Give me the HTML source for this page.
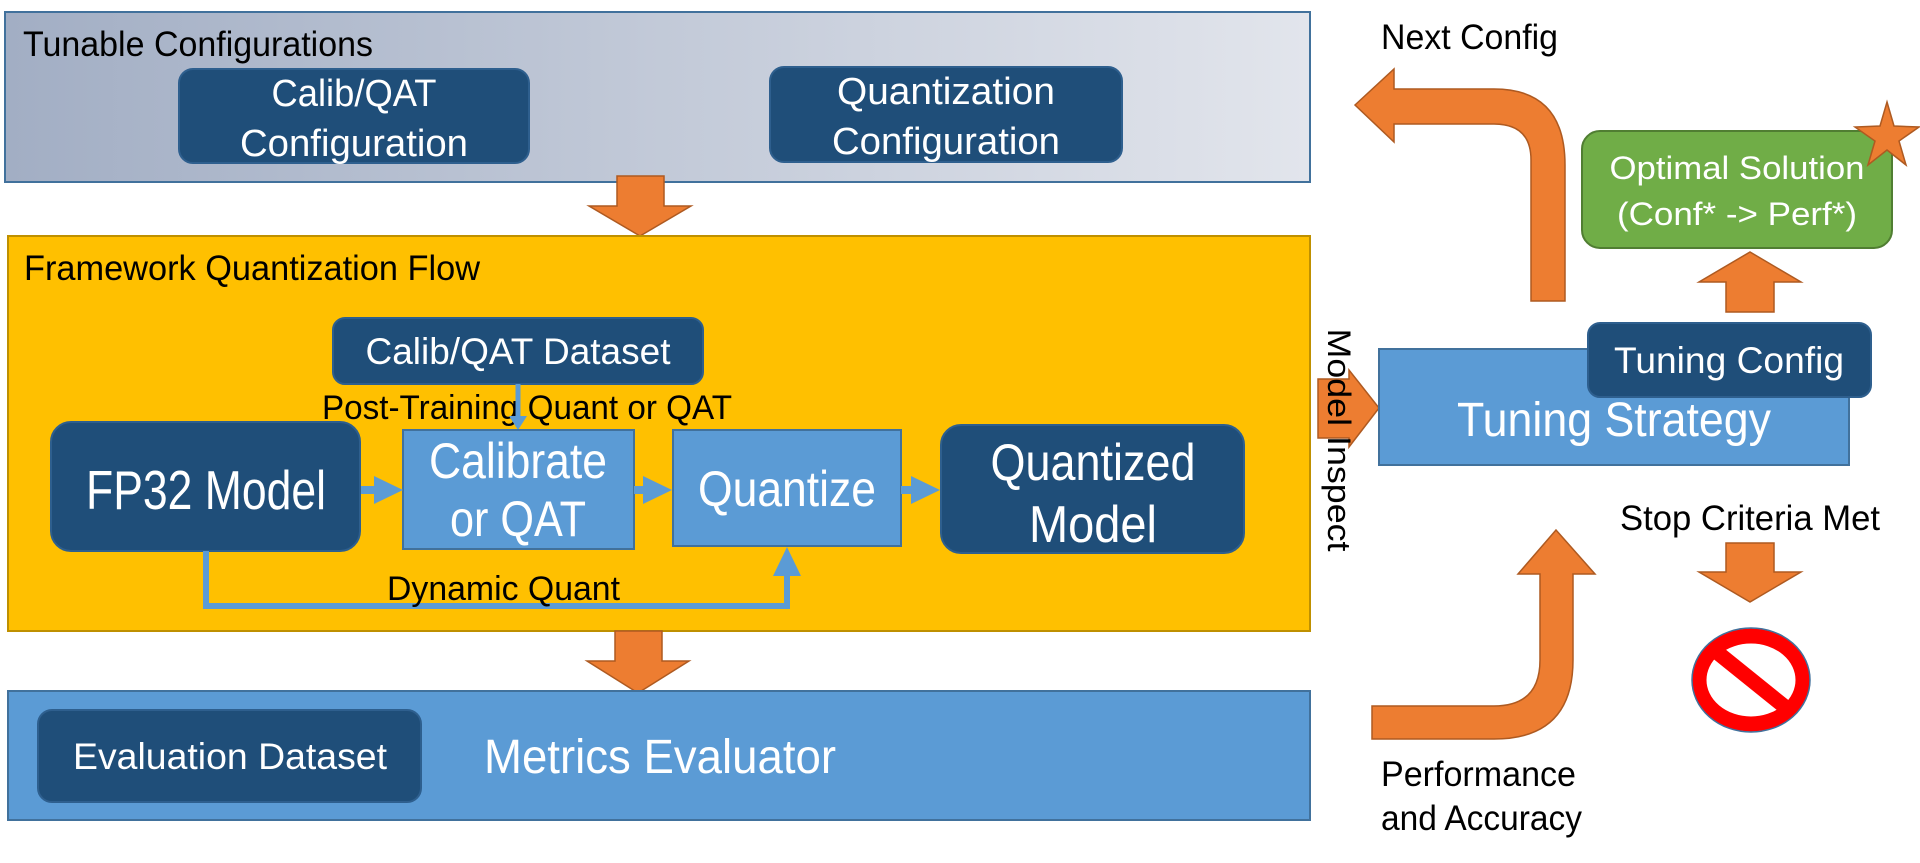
<!DOCTYPE html>
<html><head><meta charset="utf-8"><style>
html,body{margin:0;padding:0;background:#fff;}
svg{display:block;}
text{font-family:"Liberation Sans",sans-serif;}
</style></head><body>
<svg width="1920" height="863" viewBox="0 0 1920 863" xmlns="http://www.w3.org/2000/svg">
<defs>
<linearGradient id="g1" x1="0" y1="0" x2="1" y2="0">
<stop offset="0" stop-color="#A2AEC4"/><stop offset="1" stop-color="#E2E5EC"/>
</linearGradient>
</defs>
<rect x="5" y="12" width="1305" height="170" fill="url(#g1)" stroke="#41719C" stroke-width="2"/>
<text x="23" y="56" font-size="35" fill="#000" textLength="350" lengthAdjust="spacingAndGlyphs">Tunable Configurations</text>
<rect x="179" y="69" width="350" height="94" rx="14" fill="#1F4E79" stroke="#2E5F8E" stroke-width="2"/>
<text x="354" y="106" font-size="38" fill="#fff" text-anchor="middle" textLength="165" lengthAdjust="spacingAndGlyphs">Calib/QAT</text>
<text x="354" y="156" font-size="38" fill="#fff" text-anchor="middle" textLength="228" lengthAdjust="spacingAndGlyphs">Configuration</text>
<rect x="770" y="67" width="352" height="95" rx="14" fill="#1F4E79" stroke="#2E5F8E" stroke-width="2"/>
<text x="946" y="104" font-size="38" fill="#fff" text-anchor="middle" textLength="218" lengthAdjust="spacingAndGlyphs">Quantization</text>
<text x="946" y="154" font-size="38" fill="#fff" text-anchor="middle" textLength="228" lengthAdjust="spacingAndGlyphs">Configuration</text>
<polygon points="617,176 664,176 664,206 691,206 640,236 589,206 617,206" fill="#ED7D31" stroke="#AE5A21" stroke-width="1.5"/>
<rect x="8" y="236" width="1302" height="395" fill="#FFC000" stroke="#BF9000" stroke-width="2"/>
<text x="24" y="280" font-size="35" fill="#000" textLength="456" lengthAdjust="spacingAndGlyphs">Framework Quantization Flow</text>
<rect x="333" y="318" width="370" height="66" rx="12" fill="#1F4E79" stroke="#2E5F8E" stroke-width="2"/>
<text x="518" y="364" font-size="37" fill="#fff" text-anchor="middle" textLength="305" lengthAdjust="spacingAndGlyphs">Calib/QAT Dataset</text>
<text x="322" y="419" font-size="34" fill="#000" textLength="410" lengthAdjust="spacingAndGlyphs">Post-Training Quant or QAT</text>
<line x1="518" y1="384" x2="518" y2="418" stroke="#5B9BD5" stroke-width="5"/>
<polygon points="509,416 527,416 518,430" fill="#5B9BD5"/>
<rect x="51" y="422" width="309" height="129" rx="20" fill="#1F4E79" stroke="#2E5F8E" stroke-width="2"/>
<text x="206" y="509" font-size="55" fill="#fff" text-anchor="middle" textLength="240" lengthAdjust="spacingAndGlyphs">FP32 Model</text>
<rect x="403" y="430" width="231" height="119" fill="#5B9BD5" stroke="#41719C" stroke-width="2"/>
<text x="518" y="478" font-size="50" fill="#fff" text-anchor="middle" textLength="178" lengthAdjust="spacingAndGlyphs">Calibrate</text>
<text x="518" y="536" font-size="50" fill="#fff" text-anchor="middle" textLength="136" lengthAdjust="spacingAndGlyphs">or QAT</text>
<rect x="673" y="430" width="228" height="116" fill="#5B9BD5" stroke="#41719C" stroke-width="2"/>
<text x="787" y="506" font-size="50" fill="#fff" text-anchor="middle" textLength="178" lengthAdjust="spacingAndGlyphs">Quantize</text>
<rect x="941" y="425" width="303" height="128" rx="20" fill="#1F4E79" stroke="#2E5F8E" stroke-width="2"/>
<text x="1093" y="480" font-size="52" fill="#fff" text-anchor="middle" textLength="205" lengthAdjust="spacingAndGlyphs">Quantized</text>
<text x="1093" y="542" font-size="52" fill="#fff" text-anchor="middle" textLength="128" lengthAdjust="spacingAndGlyphs">Model</text>
<polygon points="361,486 374,486 374,476 403,490 374,504 374,494 361,494" fill="#5B9BD5"/>
<polygon points="634,486 643,486 643,476 672,490 643,504 643,494 634,494" fill="#5B9BD5"/>
<polygon points="901,486 911,486 911,476 940,490 911,504 911,494 901,494" fill="#5B9BD5"/>
<polyline points="206,551 206,606 787,606" fill="none" stroke="#5B9BD5" stroke-width="6"/>
<line x1="787" y1="609" x2="787" y2="570" stroke="#5B9BD5" stroke-width="6"/>
<polygon points="773,576 801,576 787,547" fill="#5B9BD5"/>
<text x="387" y="600" font-size="34" fill="#000" textLength="233" lengthAdjust="spacingAndGlyphs">Dynamic Quant</text>
<polygon points="615,631 662,631 662,661 689,661 638,693 587,661 615,661" fill="#ED7D31" stroke="#AE5A21" stroke-width="1.5"/>
<rect x="8" y="691" width="1302" height="129" fill="#5B9BD5" stroke="#41719C" stroke-width="2"/>
<rect x="38" y="710" width="383" height="92" rx="14" fill="#1F4E79" stroke="#2E5F8E" stroke-width="2"/>
<text x="230" y="769" font-size="37" fill="#fff" text-anchor="middle" textLength="314" lengthAdjust="spacingAndGlyphs">Evaluation Dataset</text>
<text x="484" y="773" font-size="48" fill="#fff" textLength="352" lengthAdjust="spacingAndGlyphs">Metrics Evaluator</text>
<text x="1381" y="49" font-size="35" fill="#000" textLength="177" lengthAdjust="spacingAndGlyphs">Next Config</text>
<path d="M1355,105 L1394,69 L1394,89 L1494,89 Q1565,89 1565,165 L1565,301 L1531,301 L1531,160 Q1531,124 1494,124 L1394,124 L1394,142 Z" fill="#ED7D31" stroke="#AE5A21" stroke-width="1.5"/>
<polygon points="1318,379 1349,379 1349,370 1379,408 1349,447 1349,438 1318,438" fill="#ED7D31" stroke="#AE5A21" stroke-width="1.5"/>
<rect x="1379" y="349" width="470" height="116" fill="#5B9BD5" stroke="#41719C" stroke-width="2"/>
<text x="1614" y="436" font-size="48" fill="#fff" text-anchor="middle" textLength="314" lengthAdjust="spacingAndGlyphs">Tuning Strategy</text>
<rect x="1588" y="323" width="283" height="74" rx="12" fill="#1F4E79" stroke="#2E5F8E" stroke-width="2"/>
<text x="1729" y="373" font-size="37" fill="#fff" text-anchor="middle" textLength="230" lengthAdjust="spacingAndGlyphs">Tuning Config</text>
<text transform="translate(1328,440) rotate(90)" font-size="32" fill="#000" text-anchor="middle" textLength="223" lengthAdjust="spacingAndGlyphs">Model Inspect</text>
<rect x="1582" y="131" width="310" height="117" rx="18" fill="#70AD47" stroke="#507E32" stroke-width="2"/>
<text x="1737" y="179" font-size="32" fill="#fff" text-anchor="middle" textLength="255" lengthAdjust="spacingAndGlyphs">Optimal Solution</text>
<text x="1737" y="225" font-size="32" fill="#fff" text-anchor="middle" textLength="240" lengthAdjust="spacingAndGlyphs">(Conf* -&gt; Perf*)</text>
<polygon points="1887,102 1894,126 1919,127 1899,141 1906,165 1887,150 1868,165 1875,141 1855,127 1880,126" fill="#ED7D31" stroke="#AE5A21" stroke-width="1.5"/>
<polygon points="1726,312 1774,312 1774,282 1801,282 1750,252 1699,282 1726,282" fill="#ED7D31" stroke="#AE5A21" stroke-width="1.5"/>
<text x="1620" y="530" font-size="35" fill="#000" textLength="260" lengthAdjust="spacingAndGlyphs">Stop Criteria Met</text>
<polygon points="1726,543 1774,543 1774,572 1801,572 1750,602 1699,572 1726,572" fill="#ED7D31" stroke="#AE5A21" stroke-width="1.5"/>
<ellipse cx="1751" cy="680" rx="52" ry="44" fill="none" stroke="#FF0000" stroke-width="15"/>
<ellipse cx="1751" cy="680" rx="59" ry="52" fill="none" stroke="#41719C" stroke-width="1.5"/>
<line x1="1718" y1="653" x2="1785" y2="707" stroke="#FF0000" stroke-width="15"/>
<path d="M1372,706 L1494,706 Q1540,706 1540,660 L1540,574 L1518,574 L1556,530 L1595,574 L1573,574 L1573,660 Q1573,739 1494,739 L1372,739 Z" fill="#ED7D31" stroke="#AE5A21" stroke-width="1.5"/>
<text x="1381" y="786" font-size="35" fill="#000" textLength="195" lengthAdjust="spacingAndGlyphs">Performance</text>
<text x="1381" y="830" font-size="35" fill="#000" textLength="201" lengthAdjust="spacingAndGlyphs">and Accuracy</text>
</svg>
</body></html>
